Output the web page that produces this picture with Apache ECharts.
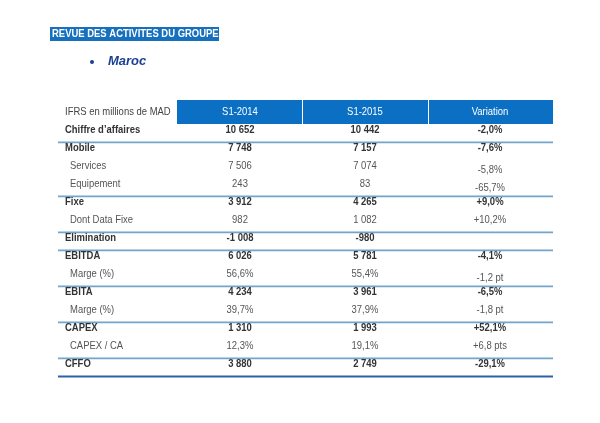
<!DOCTYPE html>
<html><head><meta charset="utf-8">
<script src="https://cdn.jsdelivr.net/npm/echarts@6/dist/echarts.min.js"></script>
<style>html,body{margin:0;padding:0;background:#fff}#c{width:600px;height:423px}</style>
</head><body><div id="c"></div>
<script>
const headerLabel = "IFRS en millions de MAD";
const columns = ["S1-2014", "S1-2015", "Variation"];
const rowLabels = ["Chiffre d\u2019affaires","Mobile","Services","Equipement","Fixe","Dont Data Fixe","Elimination","EBITDA","Marge (%)","EBITA","Marge (%)","CAPEX","CAPEX / CA","CFFO"];
const s2014 = ["10 652","7 748","7 506","243","3 912","982","-1 008","6 026","56,6%","4 234","39,7%","1 310","12,3%","3 880"];
const s2015 = ["10 442","7 157","7 074","83","4 265","1 082","-980","5 781","55,4%","3 961","37,9%","1 993","19,1%","2 749"];
const variation = ["-2,0%","-7,6%","-5,8%","-65,7%","+9,0%","+10,2%","","-4,1%","-1,2 pt","-6,5%","-1,8 pt","+52,1%","+6,8 pts","-29,1%"];
const boldRows = [true,true,false,false,true,false,true,true,false,true,false,true,false,true];
const separatorsAfter = [0,3,5,6,8,10,12,13];

// layout (pixels in axis space)
const colCenters = [null, 240, 365, 490];
const colEdges = [58, 177, 302, 428, 553];
const varShift = {2:4, 3:4, 8:4};
const SX = 0.86;

const cells = [];
rowLabels.forEach((l,i)=>{
  cells.push([0, i, l, boldRows[i] ? 1 : 0]);
  cells.push([1, i, s2014[i], boldRows[i] ? 1 : 0]);
  cells.push([2, i, s2015[i], boldRows[i] ? 1 : 0]);
  cells.push([3, i, variation[i], boldRows[i] ? 1 : 0]);
});
const headerCells = [[0,-1,headerLabel],[1,-1,columns[0]],[2,-1,columns[1]],[3,-1,columns[2]]];
const seps = separatorsAfter.map((r,k)=>[r, k === separatorsAfter.length-1 ? 1 : 0]);

const font = '"Liberation Sans", Arial, sans-serif';
const chart = echarts.init(document.getElementById('c'));
chart.setOption({
  animation:false,
  graphic:[
    {type:'rect', left:50, top:27, shape:{width:169, height:14}, style:{fill:'#1670bd'}},
    {type:'text', x:52, y:34, scaleX:SX, style:{text:'REVUE DES ACTIVITES DU GROUPE', fill:'#fff', font:'bold 11px '+font, verticalAlign:'middle'}},
    {type:'circle', shape:{cx:92, cy:62, r:2}, style:{fill:'#1c3f94'}},
    {type:'text', x:108, y:61, style:{text:'Maroc', fill:'#1c3f94', font:'italic bold 13px '+font, verticalAlign:'middle'}}
  ],
  grid:{left:58, right:47, top:94, bottom:41},
  xAxis:{type:'value', min:58, max:553, show:false},
  yAxis:{type:'value', min:-2, max:14, inverse:true, show:false},
  series:[
    {type:'custom', data:headerCells, renderItem:(p,api)=>{
      const col = api.value(0), r = api.value(1);
      const c = api.coord([colEdges[1], r]);
      const txt = headerCells[p.dataIndex][2];
      if (col === 0) {
        return {type:'text', x:api.coord([colEdges[0]+7, r])[0], y:c[1], scaleX:SX, style:{text:txt, fill:'#444', font:'11px '+font, verticalAlign:'middle', align:'left'}};
      }
      const x0 = api.coord([colEdges[col], r])[0], x1 = api.coord([colEdges[col+1], r])[0];
      return {type:'group', children:[
        {type:'rect', shape:{x:x0 + (col>1?1:0), y:c[1]-12, width:x1-x0-(col>1?1:0), height:24}, style:{fill:'#0b6fc3'}},
        {type:'text', x:api.coord([colCenters[col], r])[0], y:c[1], scaleX:SX, style:{text:txt, fill:'#fff', font:'11px '+font, align:'center', verticalAlign:'middle'}}
      ]};
    }},
    {type:'custom', data:seps, renderItem:(p,api)=>{
      const r = api.value(0), last = api.value(1);
      const y = api.coord([0, r + 0.69])[1];
      const x0 = api.coord([colEdges[0], 0])[0], x1 = api.coord([colEdges[4], 0])[0];
      return {type:'line', shape:{x1:x0, y1:y, x2:x1, y2:y}, style:{stroke: last ? '#2a64a6' : '#73a5cc', lineWidth: last ? 2 : 1.6}};
    }},
    {type:'custom', data:cells, renderItem:(p,api)=>{
      const col = api.value(0), r = api.value(1), b = api.value(3);
      const d = cells[p.dataIndex];
      const txt = d[2];
      const y = api.coord([0, r])[1];
      let x, align = 'center';
      if (col === 0) { x = api.coord([b ? colEdges[0]+7 : colEdges[0]+12, 0])[0]; align = 'left'; }
      else x = api.coord([colCenters[col], 0])[0];
      const dy = (col === 3 && varShift[r]) ? varShift[r] : 0;
      return {type:'text', x:x, y:y+dy, scaleX:SX, style:{text:txt, fill: b ? '#333' : '#555', font:(b?'bold ':'')+'11px '+font, align:align, verticalAlign:'middle'}};
    }}
  ]
});
</script></body></html>
